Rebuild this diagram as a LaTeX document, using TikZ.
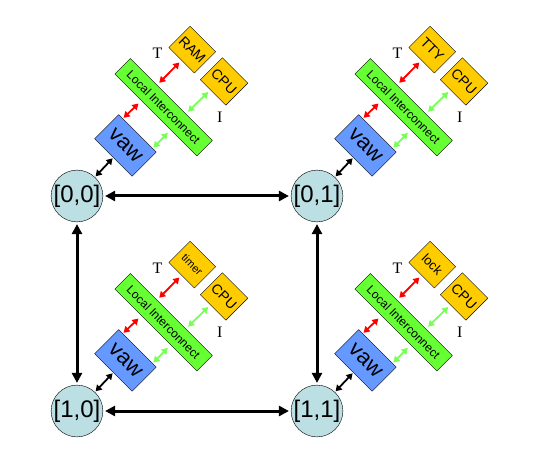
\documentclass[tikz,border=0pt]{standalone}
\usepackage{fontspec}
\setmainfont{Liberation Sans}
\newfontfamily\serifT{Liberation Serif}
\usetikzlibrary{arrows.meta,calc}
\definecolor{circfill}{HTML}{BCDFE3}
\definecolor{vawblue}{HTML}{6699FF}
\definecolor{ligreen}{HTML}{66FF33}
\definecolor{boxyellow}{HTML}{FFCC00}
\definecolor{arrgreen}{HTML}{77FF55}
\definecolor{arrred}{HTML}{FF0000}
\tikzset{
  hub/.style={circle,draw,fill=circfill,minimum size=50pt,inner sep=0pt,font=\fontsize{24}{24}\selectfont},
  box/.style={draw,rotate=-45,inner sep=0pt},
  bigarrow/.style={line width=3pt,{Triangle[length=10pt,width=10pt]}-{Triangle[length=10pt,width=10pt]},shorten >=2pt,shorten <=2pt},
  smallarrow/.style={line width=1.8pt,{Triangle[length=6pt,width=7pt]}-{Triangle[length=6pt,width=7pt]}},
  letter/.style={font=\serifT\fontsize{16}{16}\selectfont,inner sep=0pt},
}
\newcommand\drawcluster[6]{%
  \node[hub] (#1c) at (#2,#3) {#4};
  \begin{scope}[shift={(#2,#3)},rotate=-45]
    \node[box,fill=vawblue,minimum width=53pt,minimum height=34pt,font=\fontsize{22}{22}\selectfont] (#1v) at (-1.5,70) {vaw};
    \node[box,fill=ligreen,minimum width=116pt,minimum height=22pt,font=\fontsize{12}{12}\selectfont] (#1l) at (-1.5,124) {Local Interconnect};
    \node[box,fill=boxyellow,minimum width=36pt,minimum height=30pt,font=\fontsize{#6}{#6}\selectfont] (#1m) at (-22,185) {#5};
    \node[box,fill=boxyellow,minimum width=36pt,minimum height=31pt,font=\fontsize{14}{14}\selectfont] (#1p) at (23,185) {CPU};
    \node[letter] (#1t) at (-44,158) {T};
    \node[letter] (#1i) at (45,157) {I};
  \end{scope}
  \draw[smallarrow,black,shorten <=1pt,shorten >=1pt] (#1c) -- (#1v.south);
  \draw[smallarrow,arrred,shorten <=1pt,shorten >=4pt]
    ($(#1v.north west)!0.11!(#1v.north east)$) -- ($(#1l.south west)!0.325!(#1l.south east)$);
  \draw[smallarrow,arrgreen,shorten <=1pt,shorten >=4pt]
    ($(#1v.north west)!0.9!(#1v.north east)$) -- ($(#1l.south west)!0.68!(#1l.south east)$);
  \draw[smallarrow,arrred,shorten <=3pt,shorten >=3pt]
    ($(#1l.north west)!0.325!(#1l.north east)$) -- (#1m.south);
  \draw[smallarrow,arrgreen,shorten <=3pt,shorten >=3pt]
    ($(#1l.north west)!0.675!(#1l.north east)$) -- ($(#1p.south west)!0.4!(#1p.south east)$);
}
\begin{document}
\begin{tikzpicture}[x=1pt,y=1pt]
  \useasboundingbox (0,0) rectangle (547,467);
  \drawcluster{a}{77}{271}{[0,0]}{RAM}{14}
  \drawcluster{b}{317}{271}{[0,1]}{TTY}{14}
  \drawcluster{c}{77}{56}{[1,0]}{timer}{11}
  \drawcluster{d}{317}{56}{[1,1]}{lock}{13}
  \draw[bigarrow] (ac) -- (bc);
  \draw[bigarrow] (cc) -- (dc);
  \draw[bigarrow] (ac) -- (cc);
  \draw[bigarrow] (bc) -- (dc);
\end{tikzpicture}
\end{document}
